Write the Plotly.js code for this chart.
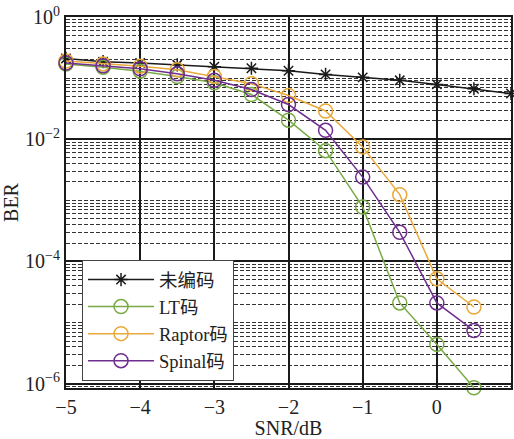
<!DOCTYPE html>
<html><head><meta charset="utf-8">
<script src="https://cdn.plot.ly/plotly-3.0.1.min.js"></script>
<style>html,body{margin:0;padding:0;background:#fff}#chart{width:514px;height:439px}</style>
</head><body><div id="chart"></div>
<script>
const snr = [-5, -4.5, -4, -3.5, -3, -2.5, -2, -1.5, -1, -0.5, 0, 0.5, 1];
const snrCoded = [-5, -4.5, -4, -3.5, -3, -2.5, -2, -1.5, -1, -0.5, 0, 0.5];
const berUncoded = [0.21, 0.186, 0.177, 0.165, 0.154, 0.145, 0.132, 0.115, 0.103, 0.092, 0.079, 0.067, 0.056];
const berLT = [0.17, 0.151, 0.13, 0.106, 0.084, 0.054, 0.0205, 0.0065, 0.00078, 0.000021, 0.0000044, 0.00000086];
const berRaptor = [0.19, 0.171, 0.157, 0.137, 0.106, 0.081, 0.052, 0.029, 0.0075, 0.00124, 0.000052, 0.000018];
const berSpinal = [0.177, 0.159, 0.142, 0.118, 0.092, 0.065, 0.037, 0.014, 0.0024, 0.0003, 0.000021, 0.0000074];
const names = ['未编码', 'LT码', 'Raptor码', 'Spinal码'];
const yTickVals = [1, 1e-2, 1e-4, 1e-6];
const yTickText = ['10<sup>0</sup>', '10<sup>−2</sup>', '10<sup>−4</sup>', '10<sup>−6</sup>'];
const xTickVals = [-5, -4, -3, -2, -1, 0, 1];
const xTickText = ['−5', '−4', '−3', '−2', '−1', '0', '1'];

const minorVals = [];
for (let e = -7; e <= 0; e++) for (let m = 1; m <= 9; m++) minorVals.push(m * Math.pow(10, e));

const serif = 'Liberation Serif, Times New Roman, Noto Sans CJK SC, serif';
const traces = [
  {x: snr, y: berUncoded, name: names[0], color: '#1a1a1a', symbol: 'asterisk-open', size: 11},
  {x: snrCoded, y: berLT, name: names[1], color: '#78ab46', symbol: 'circle-open', size: 14},
  {x: snrCoded, y: berRaptor, name: names[2], color: '#e9a93b', symbol: 'circle-open', size: 14},
  {x: snrCoded, y: berSpinal, name: names[3], color: '#6f2f8f', symbol: 'circle-open', size: 14}
].map((t, i) => ({
  type: 'scatter', mode: 'lines+markers', x: t.x, y: t.y, name: t.name, legendgroup: 'g' + i,
  line: {color: t.color, width: 1.5},
  marker: {symbol: t.symbol, size: t.size, color: t.color, line: {color: t.color, width: 1.5}},
  cliponaxis: false
}));

const layout = {
  width: 514, height: 439,
  margin: {l: 66, r: 3, t: 17, b: 51},
  paper_bgcolor: '#fff', plot_bgcolor: '#fff',
  font: {family: serif, size: 20, color: '#222'},
  showlegend: true,
  legend: {x: 0.036, y: 0.345, xanchor: 'left', yanchor: 'top', bgcolor: '#fff',
    bordercolor: '#444', borderwidth: 1, font: {family: serif, size: 18.5, color: '#222'},
    tracegroupgap: 0, itemwidth: 66},
  xaxis: {
    range: [-5, 1], tickmode: 'array', tickvals: xTickVals, ticktext: xTickText,
    showgrid: true, gridcolor: '#1a1a1a', gridwidth: 2, zeroline: false,
    showline: true, linecolor: '#1a1a1a', linewidth: 2, mirror: true,
    ticks: '', tickfont: {family: serif, size: 20},
    title: {text: 'SNR/dB', font: {family: serif, size: 20}, standoff: 6}
  },
  yaxis: {
    type: 'log', range: [-6.07, 0], tickmode: 'array', tickvals: yTickVals, ticktext: yTickText,
    showgrid: true, gridcolor: '#1a1a1a', gridwidth: 2, zeroline: false,
    showline: true, linecolor: '#1a1a1a', linewidth: 2, mirror: true,
    ticks: '', tickfont: {family: serif, size: 20},
    minor: {tickmode: 'array', tickvals: minorVals, showgrid: true, gridcolor: '#333',
      gridwidth: 1, griddash: '4px,2px', ticks: ''},
    title: {text: 'BER', font: {family: serif, size: 20}, standoff: 2}
  }
};
Plotly.newPlot('chart', traces, layout, {displayModeBar: false, staticPlot: true});
</script></body></html>
